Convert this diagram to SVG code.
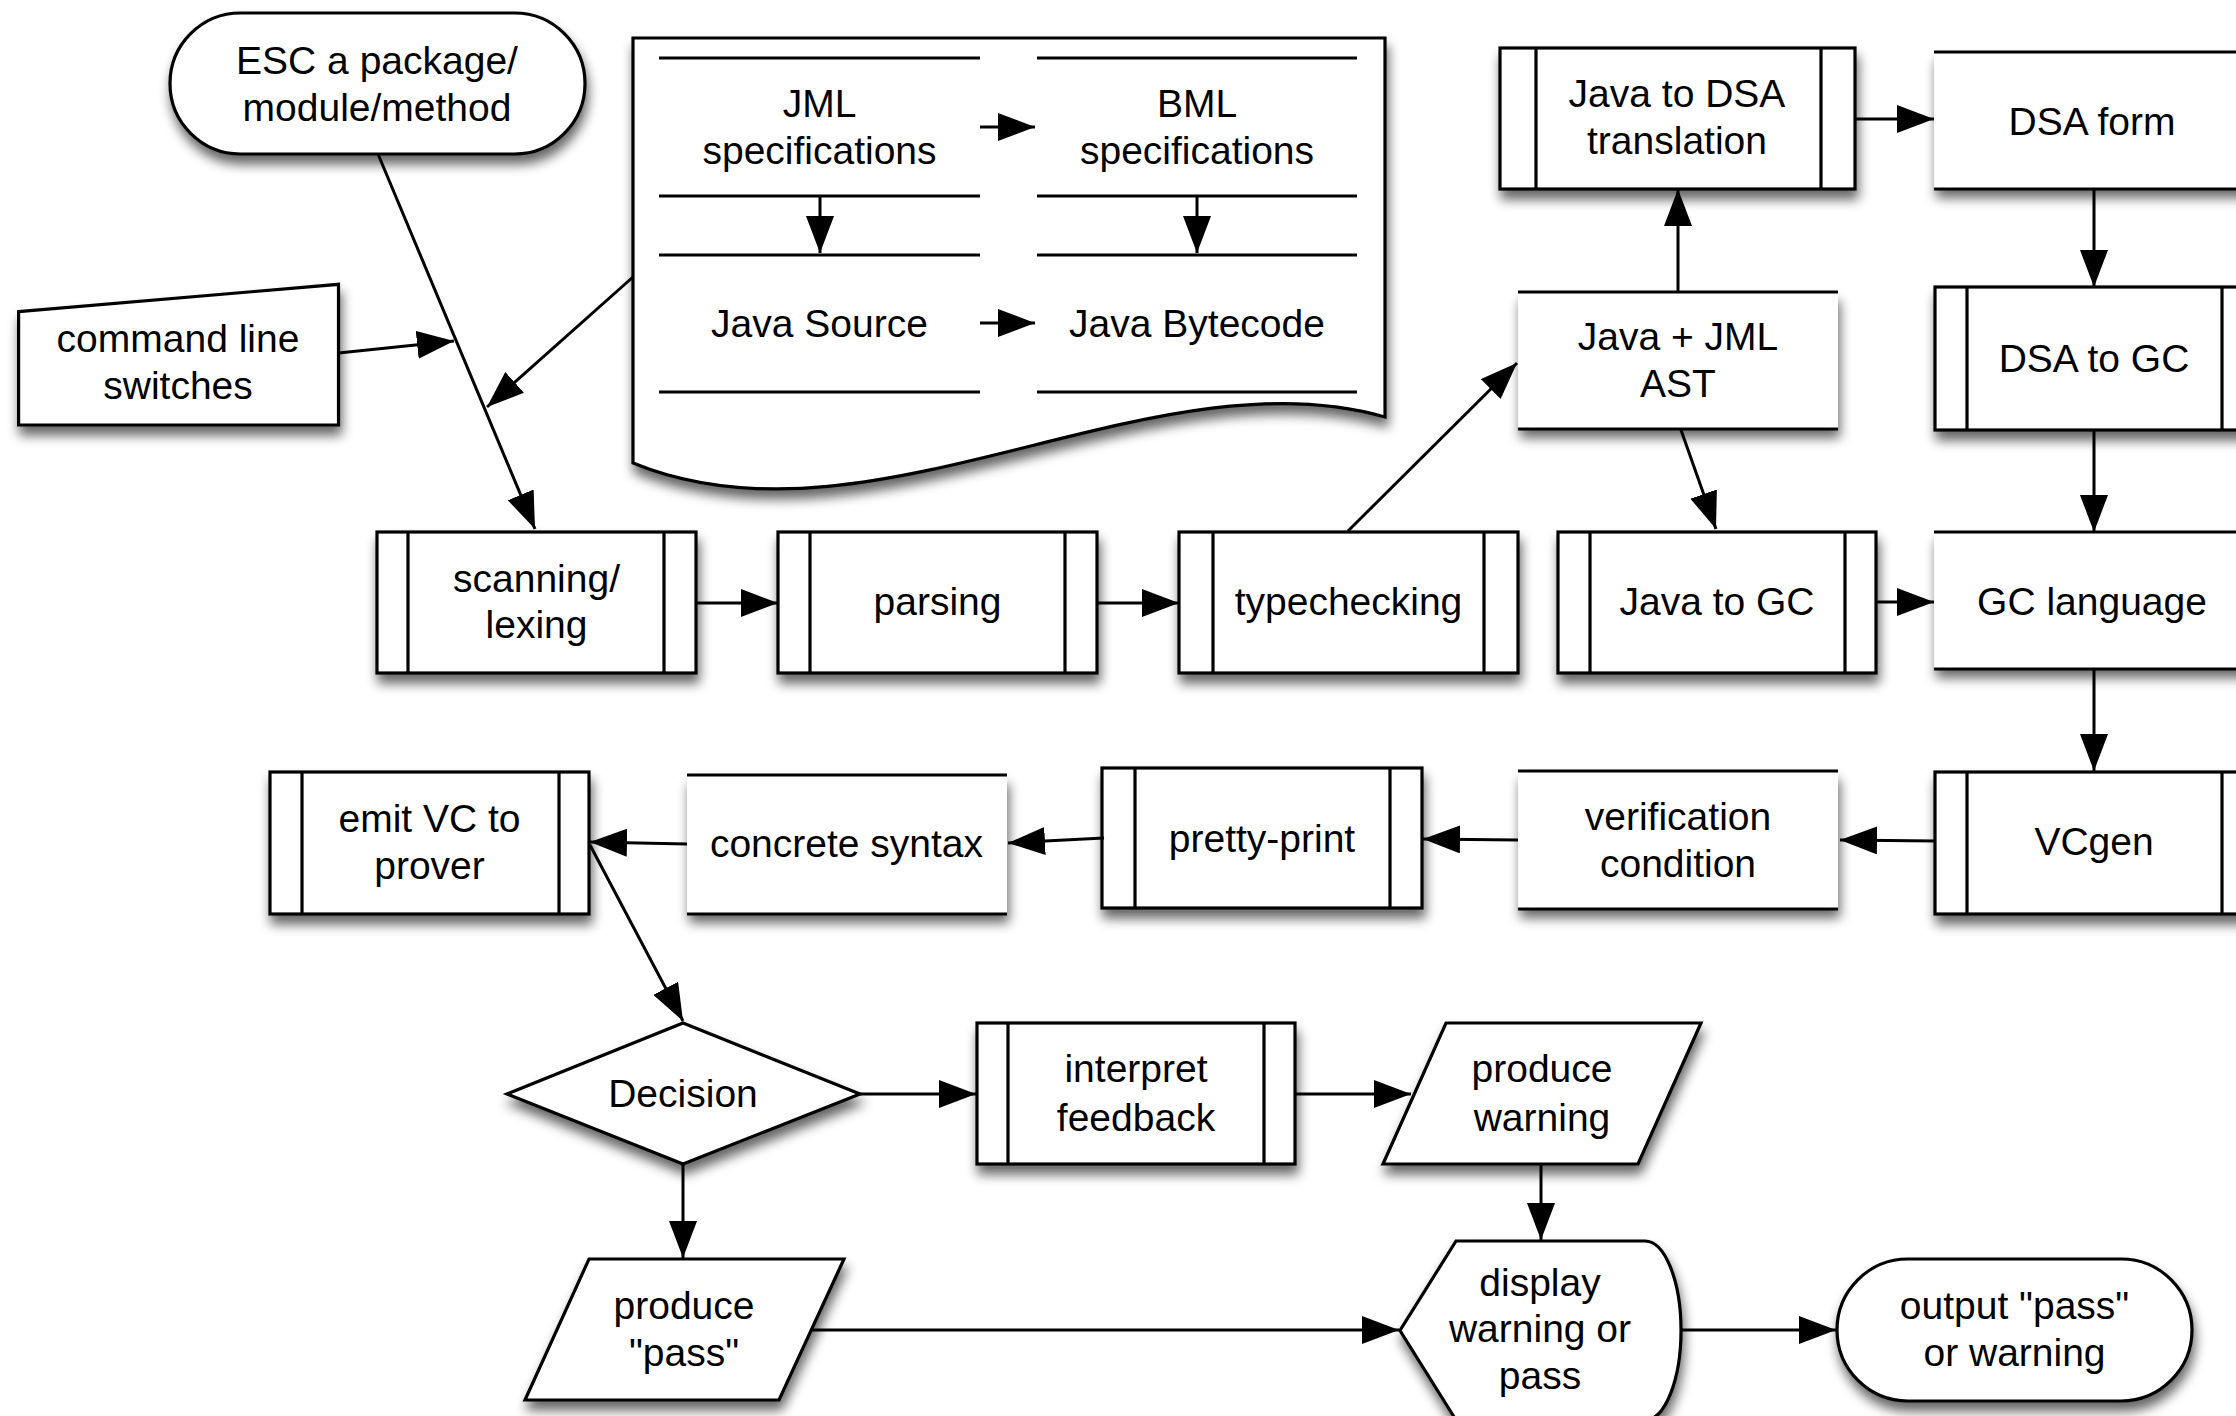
<svg xmlns="http://www.w3.org/2000/svg" width="2236" height="1416" viewBox="0 0 2236 1416">
<style>
.s{fill:#fff;stroke:#000;stroke-width:3.2;filter:url(#sh)}
.f{fill:#fff;stroke:none;filter:url(#sh)}
.l{stroke:#000;stroke-width:3.2;fill:none}
.t{font-family:"Liberation Sans",Arial,sans-serif;font-size:39px;text-anchor:middle;fill:#000}
.c{fill:none;stroke:#000;stroke-width:3;marker-end:url(#ah)}
</style>
<defs>
<filter id="sh" x="-20%" y="-20%" width="140%" height="170%">
<feGaussianBlur in="SourceAlpha" stdDeviation="6"/>
<feOffset dx="2" dy="9" result="o"/>
<feComponentTransfer><feFuncA type="linear" slope="0.6"/></feComponentTransfer>
<feMerge><feMergeNode/><feMergeNode in="SourceGraphic"/></feMerge>
</filter>
<marker id="ah" markerUnits="userSpaceOnUse" markerWidth="38" markerHeight="28" refX="37" refY="14" orient="auto">
<path d="M0,0 L37,14 L0,28 Z" fill="#000"/>
</marker>
</defs>
<rect width="2236" height="1416" fill="#fff"/>

<g id="esc">
<rect class="s" x="170" y="13" width="415" height="141" rx="70.5"/>
<text class="t" x="377" y="74">ESC a package/</text>
<text class="t" x="377" y="121">module/method</text>
</g>

<g id="cmd">
<polygon class="s" points="18.6,311.7 338.5,284.3 338.5,425 18.6,425"/>
<text class="t" x="178" y="352">command line</text>
<text class="t" x="178" y="399">switches</text>
</g>

<g id="doc">
<path class="s" d="M633,38 H1385 V417 C1150,350 870,560 633,463 Z"/>
<path class="l" d="M659,58 H980 M1037,58 H1357 M659,196 H980 M1037,196 H1357 M659,255 H980 M1037,255 H1357 M659,392 H980 M1037,392 H1357"/>
<text class="t" x="819.5" y="117">JML</text>
<text class="t" x="819.5" y="164">specifications</text>
<text class="t" x="1197" y="117">BML</text>
<text class="t" x="1197" y="164">specifications</text>
<text class="t" x="819.5" y="337">Java Source</text>
<text class="t" x="1197" y="337">Java Bytecode</text>
</g>

<g id="scan">
<rect class="s" x="377" y="532" width="319" height="141"/>
<path class="l" d="M408,532 V673 M664,532 V673"/>
<text class="t" x="536.5" y="592">scanning/</text>
<text class="t" x="536.5" y="638">lexing</text>
</g>

<g id="parse">
<rect class="s" x="778" y="532" width="319" height="141"/>
<path class="l" d="M810,532 V673 M1065,532 V673"/>
<text class="t" x="937.5" y="615">parsing</text>
</g>

<g id="type">
<rect class="s" x="1179" y="532" width="339" height="141"/>
<path class="l" d="M1213,532 V673 M1484,532 V673"/>
<text class="t" x="1348.5" y="615">typechecking</text>
</g>

<g id="j2gc">
<rect class="s" x="1558" y="532" width="318" height="141"/>
<path class="l" d="M1590,532 V673 M1845,532 V673"/>
<text class="t" x="1717" y="615">Java to GC</text>
</g>

<g id="gclang">
<rect class="f" x="1934" y="532" width="320" height="137"/>
<path class="l" d="M1934,532 H2254 M1934,669 H2254"/>
<text class="t" x="2092" y="615">GC language</text>
</g>

<g id="dsaform">
<rect class="f" x="1934" y="52" width="320" height="137"/>
<path class="l" d="M1934,52 H2254 M1934,189 H2254"/>
<text class="t" x="2092" y="135">DSA form</text>
</g>

<g id="j2dsa">
<rect class="s" x="1500" y="48" width="355" height="141"/>
<path class="l" d="M1536,48 V189 M1821,48 V189"/>
<text class="t" x="1677" y="107">Java to DSA</text>
<text class="t" x="1677" y="154">translation</text>
</g>

<g id="ast">
<rect class="f" x="1518" y="292" width="320" height="137"/>
<path class="l" d="M1518,292 H1838 M1518,429 H1838"/>
<text class="t" x="1678" y="350">Java + JML</text>
<text class="t" x="1678" y="397">AST</text>
</g>

<g id="dsa2gc">
<rect class="s" x="1935" y="287" width="320" height="143"/>
<path class="l" d="M1967,287 V430 M2222,287 V430"/>
<text class="t" x="2094" y="372">DSA to GC</text>
</g>

<g id="vcgen">
<rect class="s" x="1935" y="772" width="320" height="142"/>
<path class="l" d="M1967,772 V914 M2222,772 V914"/>
<text class="t" x="2094" y="855">VCgen</text>
</g>

<g id="vc">
<rect class="f" x="1518" y="771" width="320" height="138"/>
<path class="l" d="M1518,771 H1838 M1518,909 H1838"/>
<text class="t" x="1678" y="830">verification</text>
<text class="t" x="1678" y="877">condition</text>
</g>

<g id="pp">
<rect class="s" x="1102" y="768" width="320" height="140"/>
<path class="l" d="M1135,768 V908 M1390,768 V908"/>
<text class="t" x="1262" y="852">pretty-print</text>
</g>

<g id="cs">
<rect class="f" x="687" y="775" width="320" height="139"/>
<path class="l" d="M687,775 H1007 M687,914 H1007"/>
<text class="t" x="846.5" y="857">concrete syntax</text>
</g>

<g id="emit">
<rect class="s" x="270" y="772" width="319" height="142"/>
<path class="l" d="M302,772 V914 M559,772 V914"/>
<text class="t" x="429.5" y="832">emit VC to</text>
<text class="t" x="429.5" y="879">prover</text>
</g>

<g id="decision">
<polygon class="s" points="683,1023 860,1094 683,1164 507,1094"/>
<text class="t" x="683" y="1107">Decision</text>
</g>

<g id="interp">
<rect class="s" x="977" y="1023" width="318" height="141"/>
<path class="l" d="M1008,1023 V1164 M1264,1023 V1164"/>
<text class="t" x="1136" y="1082">interpret</text>
<text class="t" x="1136" y="1131">feedback</text>
</g>

<g id="pwarn">
<polygon class="s" points="1446,1023 1701,1023 1638,1164 1383,1164"/>
<text class="t" x="1542" y="1082">produce</text>
<text class="t" x="1542" y="1131">warning</text>
</g>

<g id="display">
<path class="s" d="M1456,1241 H1645 A36,89.5 0 0 1 1645,1420 H1456 L1400,1330.5 Z"/>
<text class="t" x="1540" y="1296">display</text>
<text class="t" x="1540" y="1342">warning or</text>
<text class="t" x="1540" y="1389">pass</text>
</g>

<g id="ppass">
<polygon class="s" points="589,1259 844,1259 779,1400 525,1400"/>
<text class="t" x="684" y="1319">produce</text>
<text class="t" x="684" y="1366">"pass"</text>
</g>

<g id="out">
<rect class="s" x="1837" y="1259" width="355" height="142" rx="71"/>
<text class="t" x="2014.5" y="1319">output "pass"</text>
<text class="t" x="2014.5" y="1366">or warning</text>
</g>

<g id="connectors">
<path class="c" d="M378,154 L535,529"/>
<path class="c" d="M338.5,353 L454,341"/>
<path class="c" d="M633,277 L487,407"/>
<path class="c" d="M980,127 L1035,127"/>
<path class="c" d="M820,196 L820,253"/>
<path class="c" d="M1197,196 L1197,253"/>
<path class="c" d="M980,323 L1035,323"/>
<path class="c" d="M696,603 L778,603"/>
<path class="c" d="M1097,603 L1179,603"/>
<path class="c" d="M1348,531 L1517,363"/>
<path class="c" d="M1678,292 L1678,189"/>
<path class="c" d="M1855,119 L1934,119"/>
<path class="c" d="M2094,189 L2094,287"/>
<path class="c" d="M2094,430 L2094,532"/>
<path class="c" d="M1681,430 L1716,529"/>
<path class="c" d="M1876,602 L1934,602"/>
<path class="c" d="M2094,669 L2094,771"/>
<path class="c" d="M1935,841 L1840,840"/>
<path class="c" d="M1518,840 L1423,839"/>
<path class="c" d="M1104,838 L1008,843"/>
<path class="c" d="M687,844 L590,842"/>
<path class="c" d="M590,845 L683,1021"/>
<path class="c" d="M860,1094 L976,1094"/>
<path class="c" d="M1295,1094 L1411,1094"/>
<path class="c" d="M1541,1164 L1541,1240"/>
<path class="c" d="M683,1164 L683,1258"/>
<path class="c" d="M812,1330 L1399,1330"/>
<path class="c" d="M1681,1330 L1836,1330"/>
</g>
</svg>
